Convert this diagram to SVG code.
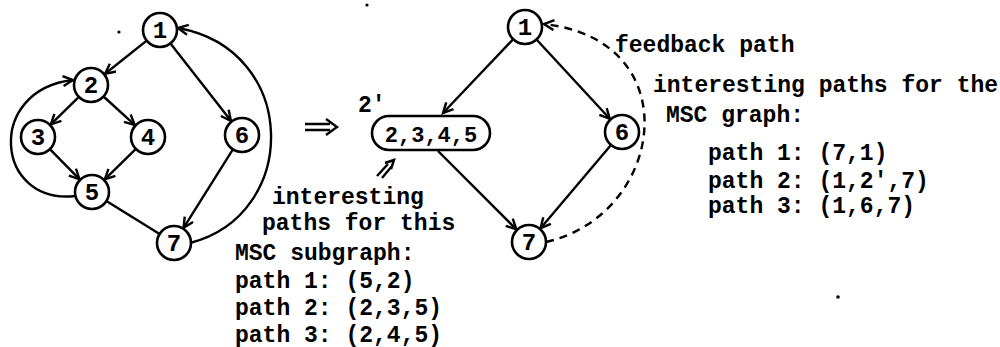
<svg xmlns="http://www.w3.org/2000/svg" width="1000" height="347" viewBox="0 0 1000 347">
<style>
.n{fill:#fff;stroke:#000;stroke-width:2.6}
.d{font-family:"Liberation Mono",monospace;font-weight:bold;font-size:24px;text-anchor:middle;fill:#000}
.e{fill:none;stroke:#000;stroke-width:2.4}
.a{marker-end:url(#ah)}
.dash{stroke-dasharray:8 6}
.t{font-family:"Liberation Mono",monospace;font-weight:bold;font-size:23px;fill:#000}
</style>
<defs>
<marker id="ah" markerUnits="userSpaceOnUse" markerWidth="14" markerHeight="14" refX="11" refY="6" orient="auto">
<path d="M1,1 L11,6 L1,11" fill="none" stroke="#000" stroke-width="2.4"/>
</marker>
</defs>
<g id="connectors">
<line class="e a" x1="146.7" y1="40.6" x2="105.1" y2="73.8"/>
<line class="e a" x1="78.9" y1="96.9" x2="50.8" y2="124.4"/>
<line class="e a" x1="103.5" y1="96.5" x2="134.7" y2="124.9"/>
<line class="e a" x1="49.9" y1="149.1" x2="79.4" y2="179.2"/>
<line class="e a" x1="135.9" y1="148.9" x2="104.8" y2="179.4"/>
<line class="e a" x1="170.5" y1="43.4" x2="230.9" y2="120.8"/>
<line class="e a" x1="232.9" y1="149.4" x2="183.6" y2="227.8"/>
<line class="e" x1="106.4" y1="201" x2="159.6" y2="234"/>
<path class="e a" d="M75,196 C-5,205 -15,90 73,80"/>
<path class="e a" d="M190,243 C300,215 300,50 178,28"/>
<line class="e a" x1="513.2" y1="39.2" x2="443" y2="113"/>
<line class="e a" x1="536.5" y1="39.5" x2="609.8" y2="118.8"/>
<line class="e a" x1="438" y1="151" x2="516.3" y2="229.3"/>
<line class="e a" x1="611" y1="145" x2="540.6" y2="228.2"/>
<path class="e a dash" d="M546,242 C665,215 690,40 544,24"/>
</g>
<g id="n1"><circle class="n" cx="160" cy="30" r="17"/><text class="d" x="160" y="38">1</text></g>
<g id="n2"><circle class="n" cx="91" cy="85" r="17"/><text class="d" x="91" y="93">2</text></g>
<g id="n3"><circle class="n" cx="38" cy="137" r="17"/><text class="d" x="38" y="145">3</text></g>
<g id="n4"><circle class="n" cx="148" cy="137" r="17"/><text class="d" x="148" y="145">4</text></g>
<g id="n5"><circle class="n" cx="92" cy="192" r="17"/><text class="d" x="92" y="200">5</text></g>
<g id="n6"><circle class="n" cx="242" cy="135" r="17"/><text class="d" x="242" y="143">6</text></g>
<g id="n7"><circle class="n" cx="174" cy="243" r="17"/><text class="d" x="174" y="251">7</text></g>
<g id="transform-arrow">
<path d="M305,124 H330 M305,130 H330" class="e" stroke-width="2"/>
<path d="M326,119 L337,127 L326,135" class="e" stroke-width="2.2"/>
</g>
<g id="r1"><circle class="n" cx="525" cy="27" r="17"/><text class="d" x="525" y="35">1</text></g>
<g id="r2p"><rect class="n" x="372" y="116" width="118" height="34" rx="17"/><text class="d" x="431" y="142" style="font-size:22px">2,3,4,5</text><text class="t" x="358" y="112">2'</text></g>
<g id="r6"><circle class="n" cx="622" cy="132" r="17"/><text class="d" x="622" y="140">6</text></g>
<g id="r7"><circle class="n" cx="529" cy="242" r="17"/><text class="d" x="529" y="250">7</text></g>
<g id="pointer">
<path d="M377,176 L388,164 M382,178 L392,166" class="e" stroke-width="1.8"/>
<path d="M385,163 L394,160 L391,169" class="e" stroke-width="1.8"/>
</g>
<g id="labels">
<text class="t" x="615" y="52">feedback path</text>
<text class="t" x="653" y="92">interesting paths for the</text>
<text class="t" x="666" y="122">MSC graph:</text>
<text class="t" x="708" y="160">path 1: (7,1)</text>
<text class="t" x="708" y="188">path 2: (1,2',7)</text>
<text class="t" x="708" y="213">path 3: (1,6,7)</text>
<text class="t" x="272" y="204">interesting</text>
<text class="t" x="262" y="230">paths for this</text>
<text class="t" x="235" y="260">MSC subgraph:</text>
<text class="t" x="235" y="288">path 1: (5,2)</text>
<text class="t" x="235" y="315">path 2: (2,3,5)</text>
<text class="t" x="235" y="342">path 3: (2,4,5)</text>
</g>
<g id="specks">
<circle cx="119" cy="32" r="1.6"/>
<circle cx="367" cy="5" r="1.6"/>
<circle cx="838" cy="297" r="1.8"/>
</g>
</svg>
